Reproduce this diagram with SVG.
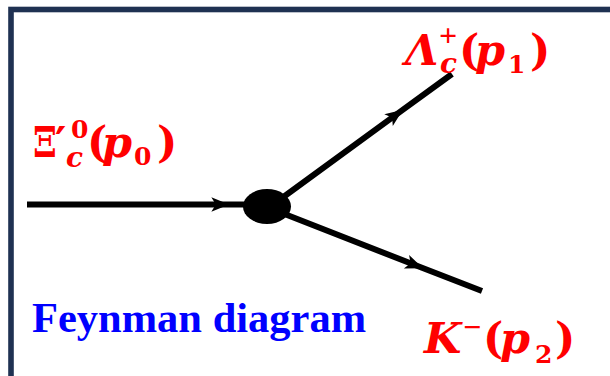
<svg xmlns="http://www.w3.org/2000/svg" width="610" height="376" viewBox="0 0 610 376">
<style>
.lbl{fill:#ff0000;font-family:"DejaVu Serif","Liberation Serif",serif;font-weight:bold;font-size:43px}
.it{font-style:italic}
.sm{font-size:25px}
.smi{font-size:28px;font-style:italic}
.op{font-family:"Liberation Serif","Times New Roman",serif;font-size:32px}
.title{fill:#0000ff;font-family:"Liberation Serif","Times New Roman",serif;font-weight:bold;font-size:42.5px}
.prop{fill:none;stroke:#000;stroke-width:6}
</style>
<defs>
<marker id="arr" markerUnits="userSpaceOnUse" markerWidth="20" markerHeight="20" refX="0" refY="0" viewBox="-16 -8 18 16" orient="auto" overflow="visible">
<path d="M-15,-6.5 L1,0 L-15,6.5 L-11,0 z" fill="#000"/>
</marker>
</defs>
<rect width="610" height="376" fill="#fff"/>
<rect id="frame" x="11" y="9.5" width="640" height="400" fill="none" stroke="#1f3152" stroke-width="5.6"/>
<g id="connectors">
<polyline class="prop" points="27,204.5 228,204.5 250,204.5" marker-mid="url(#arr)"/>
<polyline class="prop" points="282,198 402,110.3 452,74" marker-mid="url(#arr)"/>
<polyline class="prop" points="282,213 422,267.8 482,291" marker-mid="url(#arr)"/>
</g>
<g id="vertex">
<ellipse cx="267" cy="206.5" rx="24" ry="17.5" fill="#000"/>
</g>
<g id="xi">
<text class="lbl" y="157"><tspan x="33" textLength="24" lengthAdjust="spacingAndGlyphs">Ξ</tspan><tspan x="55" y="157">′</tspan><tspan class="sm" x="71" y="138">0</tspan><tspan class="smi" x="66" y="167">c</tspan><tspan x="87" y="157">(</tspan><tspan class="it" x="102" y="157">p</tspan><tspan class="sm" x="134" y="165">0</tspan><tspan x="157" y="157">)</tspan></text>
</g>
<g id="lambda">
<text class="lbl" y="65"><tspan class="it" x="405" y="65">Λ</tspan><tspan class="op" x="439" y="46">+</tspan><tspan class="smi" x="440" y="73">c</tspan><tspan x="459" y="65">(</tspan><tspan class="it" x="475" y="65">p</tspan><tspan class="sm" x="508" y="73">1</tspan><tspan x="530" y="65">)</tspan></text>
</g>
<g id="kaon">
<text class="lbl" y="353"><tspan class="it" x="424" y="353">K</tspan><tspan class="op" x="463" y="338">−</tspan><tspan x="483" y="353">(</tspan><tspan class="it" x="500" y="353">p</tspan><tspan class="sm" x="535" y="363">2</tspan><tspan x="555" y="353">)</tspan></text>
</g>
<g id="title">
<text class="title" x="32" y="332">Feynman diagram</text>
</g>
</svg>
